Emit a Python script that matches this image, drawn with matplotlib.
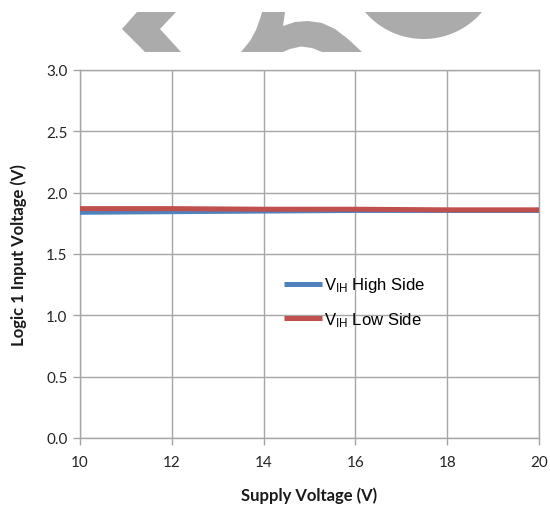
import matplotlib
matplotlib.use("Agg")
import matplotlib.pyplot as plt
from matplotlib.patches import Polygon
import numpy as np

# Data
supply_v = [10, 12, 14, 16, 18, 20]
vih_high_side = [1.840, 1.845, 1.850, 1.855, 1.855, 1.855]
vih_low_side = [1.870, 1.870, 1.865, 1.865, 1.860, 1.860]
series_labels = [r"V$_{\mathrm{IH}}$ High Side", r"V$_{\mathrm{IH}}$ Low Side"]
x_ticks = [10, 12, 14, 16, 18, 20]
y_ticks = [0.0, 0.5, 1.0, 1.5, 2.0, 2.5, 3.0]

plt.rcParams["mathtext.fontset"] = "custom"
plt.rcParams["mathtext.rm"] = "Liberation Sans"
plt.rcParams["mathtext.it"] = "Liberation Sans"

W, H = 550, 510
fig = plt.figure(figsize=(W / 100, H / 100), dpi=100)
fig.patch.set_facecolor("white")


def px(points):
    return [(x / W, 1 - y / H) for x, y in points]


# Gray logo shapes across the top
grey = "#ABABAB"
chevron = [(137, 13), (176, 13), (160, 30), (181, 53), (145, 53), (122, 30)]
fig.add_artist(Polygon(px(chevron), closed=True, facecolor=grey,
                       edgecolor="none", transform=fig.transFigure))

arch = [(262, 13), (285, 13), (283, 27), (295, 23), (308, 22), (322, 24),
        (335, 30), (348, 40), (362, 53), (322, 53), (312, 49), (301, 47.5),
        (290, 50), (283, 53), (241, 53), (250, 42), (256, 31), (260, 20)]
fig.add_artist(Polygon(px(arch), closed=True, facecolor=grey,
                       edgecolor="none", transform=fig.transFigure))

cx, half, sag = 423.5, 58.5, 27.0
R = (half ** 2 + sag ** 2) / (2 * sag)
cy = 40 - R
a0 = np.arcsin(half / R)
ang = np.linspace(-a0, a0, 60)
bowl = [(cx + R * np.sin(a), cy + R * np.cos(a)) for a in ang]
fig.add_artist(Polygon(px(bowl), closed=True, facecolor=grey,
                       edgecolor="none", transform=fig.transFigure))

# Chart
ax = fig.add_axes([80 / W, 1 - 439 / H, (539 - 80) / W, (439 - 71) / H])
grid_c = "#A6A6A6"
ax.plot(supply_v, vih_high_side, color="#4F81BD", lw=3.6,
        label=series_labels[0], solid_capstyle="butt", zorder=3)
ax.plot(supply_v, vih_low_side, color="#C0504D", lw=3.6,
        label=series_labels[1], solid_capstyle="butt", zorder=4)

ax.set_xlim(10, 20)
ax.set_ylim(0, 3.0)
ax.set_xticks(x_ticks)
ax.set_yticks(y_ticks)
ax.set_yticklabels([f"{v:.1f}" for v in y_ticks])
ax.grid(True, color=grid_c, lw=1.0)
ax.set_axisbelow(True)
for s in ax.spines.values():
    s.set_color(grid_c)
    s.set_linewidth(1.0)
ax.tick_params(axis="both", colors=grid_c, length=5, width=1.0,
               labelcolor="#262626", labelsize=11)
ax.tick_params(axis="x", pad=7)
ax.tick_params(axis="y", pad=4)
for lab in ax.get_xticklabels() + ax.get_yticklabels():
    lab.set_family("Lato")

ax.set_xlabel("Supply Voltage (V)", family="Lato", fontweight="bold",
              fontsize=12, color="#1a1a1a", labelpad=13)
ax.set_ylabel("Logic 1 Input Voltage (V)", family="Lato", fontweight="bold",
              fontsize=12, color="#1a1a1a", labelpad=14)

leg = ax.legend(loc="upper left", bbox_to_anchor=(0.43, 0.46), frameon=False,
                prop={"family": "Liberation Sans", "size": 12},
                handlelength=2.3, handletextpad=0.1, labelspacing=0.95,
                borderaxespad=0)

fig.savefig("out.png", dpi=100, facecolor="white")
